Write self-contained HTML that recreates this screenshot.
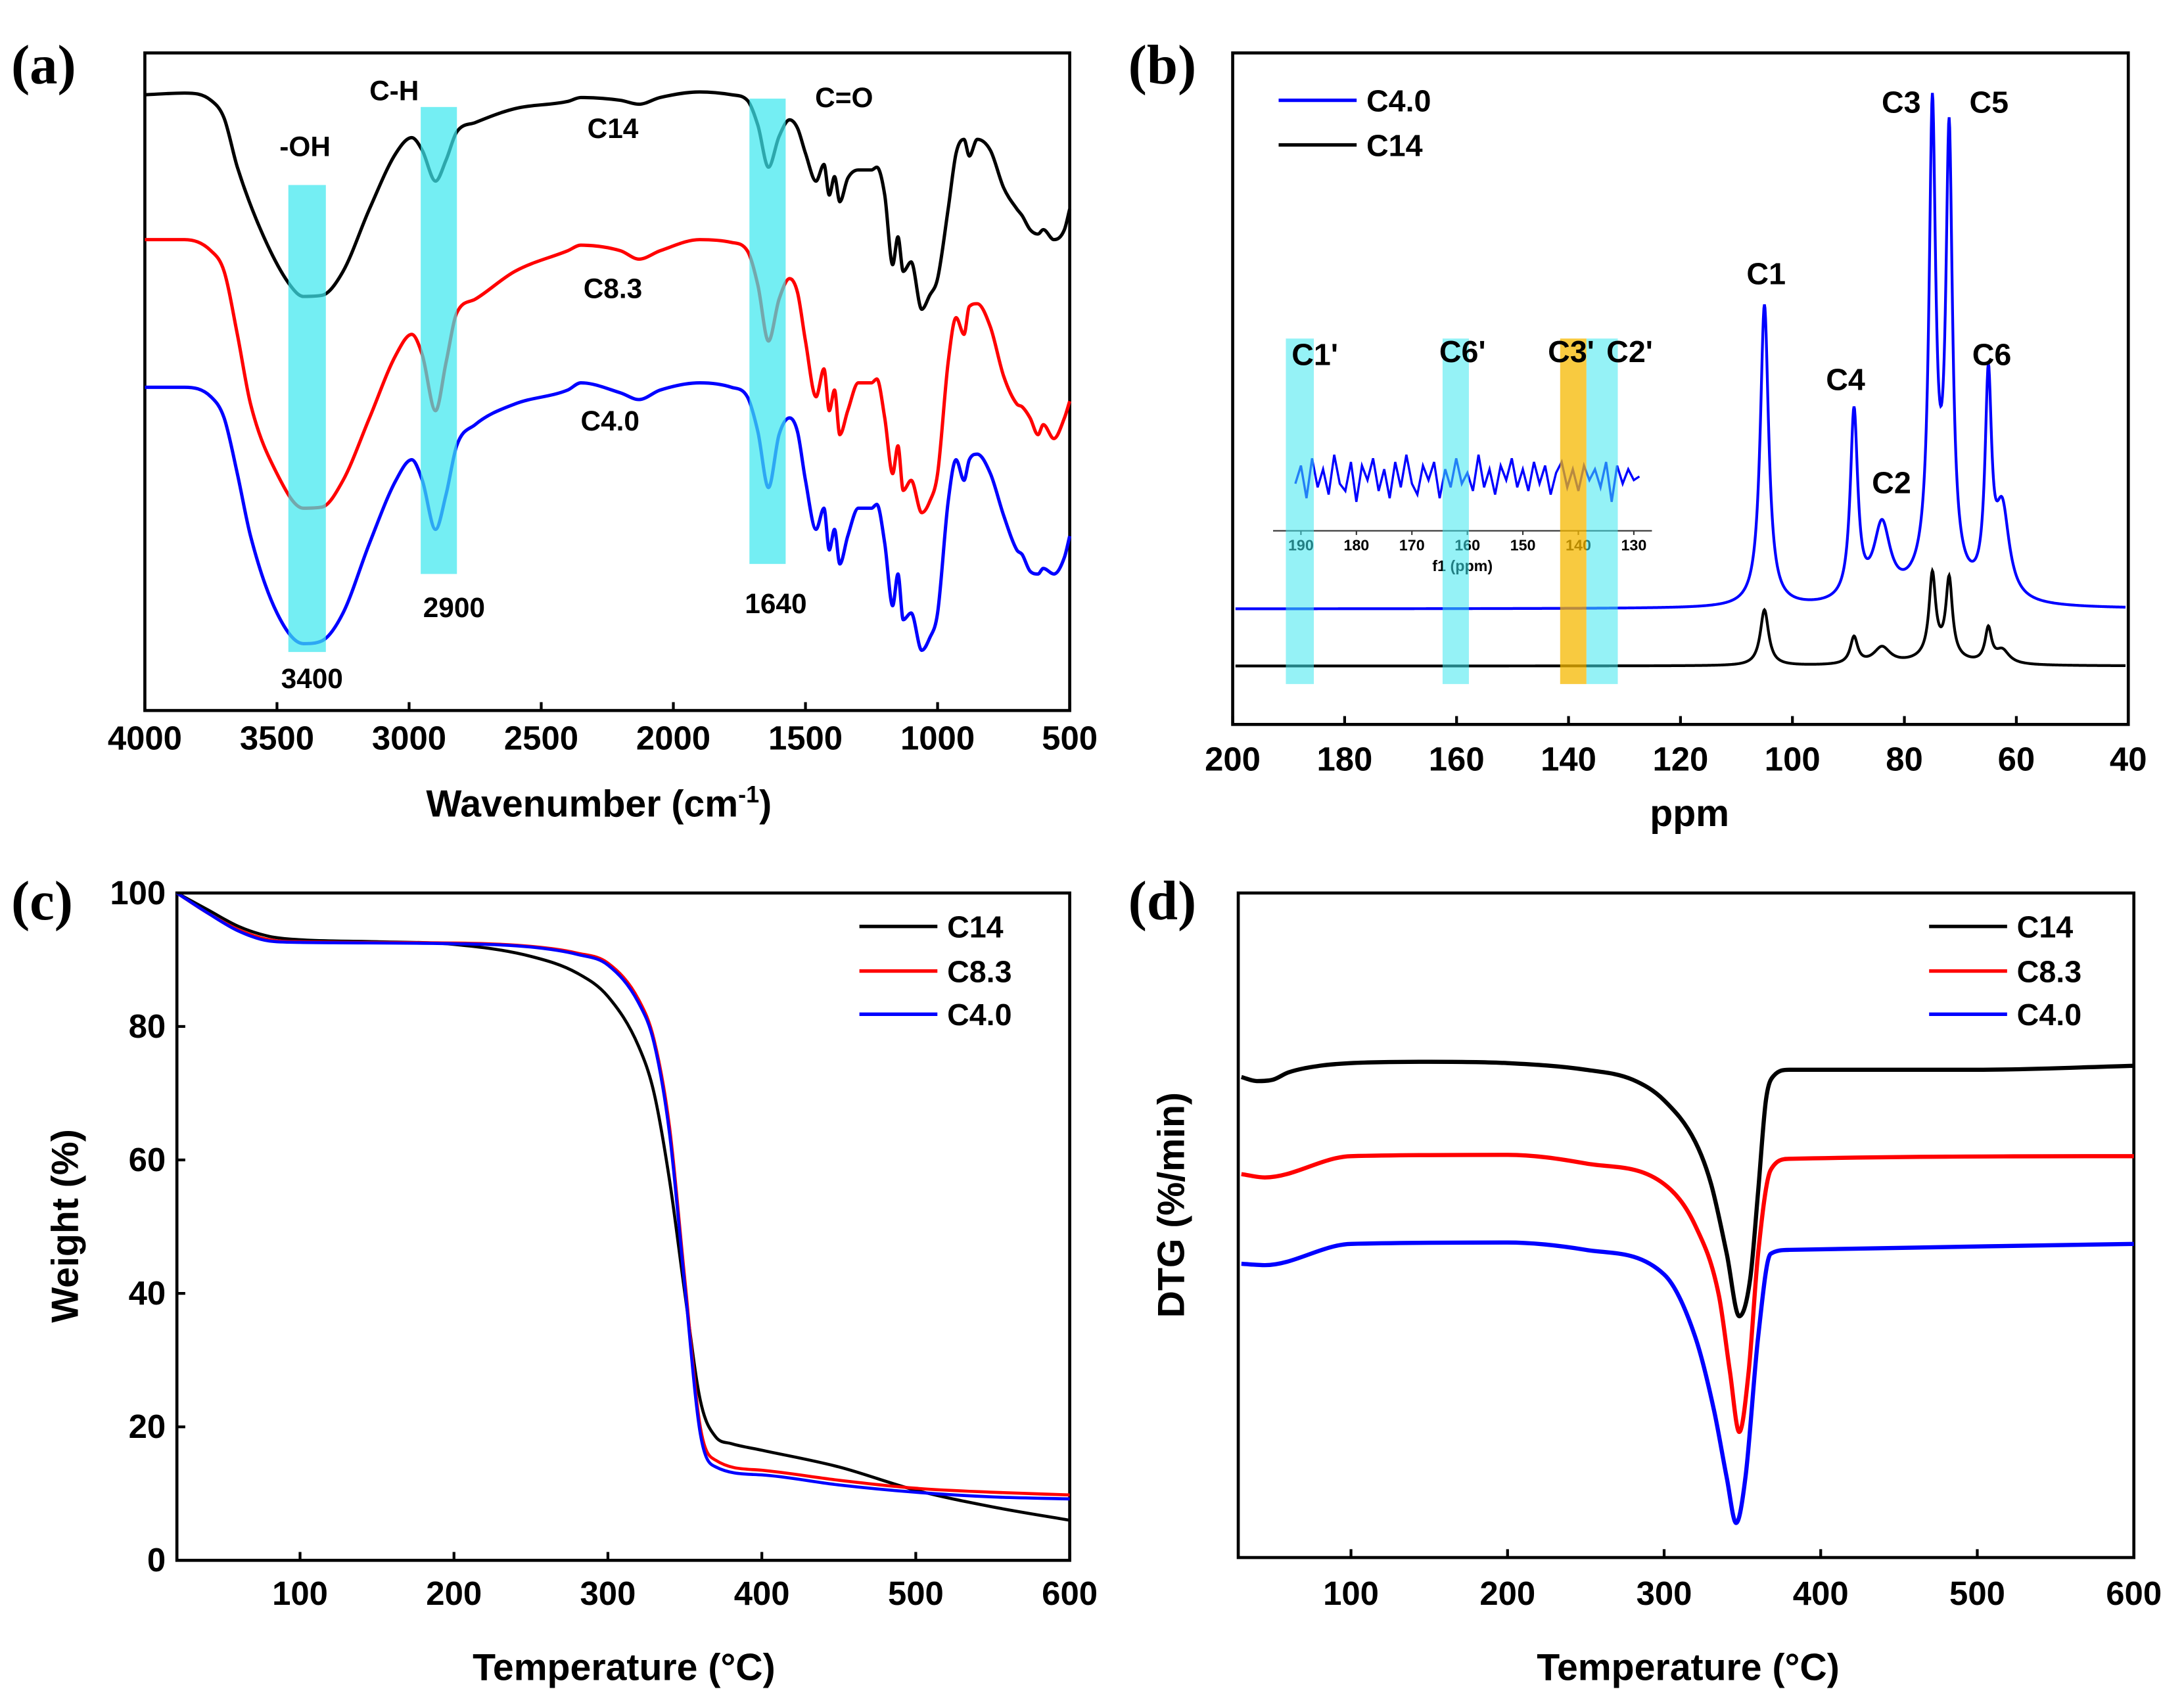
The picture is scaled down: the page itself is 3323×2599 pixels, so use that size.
<!DOCTYPE html>
<html><head><meta charset="utf-8"><style>
html,body{margin:0;padding:0;background:#fff}
svg{display:block}
text{font-family:"Liberation Sans",Arial,sans-serif;font-weight:bold;fill:#000}
.pl{font-family:"Liberation Serif",serif;font-size:40px}
</style></head><body>
<svg id="fig" xmlns="http://www.w3.org/2000/svg" width="3323" height="2599" viewBox="0 0 1568 1226" preserveAspectRatio="none">
<text class="pl" x="8" y="60">(a)</text>
<text class="pl" x="810" y="60">(b)</text>
<text class="pl" x="8" y="660">(c)</text>
<text class="pl" x="810" y="660">(d)</text>
</svg>
<script>
// ---------- Panel (a) FTIR data ----------
const irWn=[4000,3850,3750,3700,3650,3550,3450,3400,3330,3250,3150,3050,2990,2950,2900,2860,2820,2750,2600,2400,2350,2200,2130,2050,1900,1780,1720,1680,1640,1600,1560,1530,1500,1460,1430,1410,1390,1370,1340,1300,1250,1230,1200,1170,1150,1130,1100,1060,1030,1000,960,930,900,880,850,800,750,700,680,650,620,600,560,520,500];
const irC14=[110.5,110.8,109.5,106.3,97.5,85,76.3,74.3,74.5,78.8,90,100,102.8,100.5,95,98.8,103.8,105.5,108,109.3,110,109.5,108.8,110,111,110.5,109.5,105,97.5,103,106,104.5,100,95,98,92.5,95.8,91.3,95.5,97,97,97.5,92.5,80,85,78.8,80.5,72,74.5,77.5,90,100,102.5,99.5,102.5,100.5,93.8,90,88.8,86.3,85.5,86.3,84.5,86.3,90];
const irWnB=[4000,3850,3750,3700,3650,3600,3500,3400,3330,3250,3150,3050,2990,2950,2900,2860,2820,2750,2600,2400,2350,2200,2130,2050,1900,1780,1720,1680,1640,1600,1560,1530,1500,1460,1430,1410,1390,1370,1340,1300,1250,1230,1200,1170,1150,1130,1100,1060,1030,1000,960,930,900,880,850,800,750,700,680,650,620,600,560,520,500];
const irC83=[84.5,84.5,82.5,78.8,67.5,55,42.5,36.3,36.5,41.3,52.5,63.8,67.5,63.8,53.8,62.5,71.3,73.8,78.8,82.5,83.5,82.5,81,82.5,84.5,84,82.5,76.3,66.3,73.8,77.5,75,66.3,56.3,61.3,53.8,57.5,49.5,53.8,58.8,58.8,59.5,52.5,42.5,47.5,39.5,41.3,35.5,37.5,42.5,62.5,70.5,67.5,72.5,73,68.8,60,55,54.5,52.5,49.5,51.3,48.8,52.5,55.5];
const irC40=[58,58,56.3,52.5,42.5,31.3,17.5,12,12.5,17.5,30,41.3,45,41.3,32.5,38.8,47.5,51.3,55,57.5,58.8,57,55.8,57.5,58.8,58,56.3,50,40,49.5,52.5,50,41.3,32.5,36.3,28.8,32.5,26.3,31.3,36.3,36.3,37,30,18.8,24.5,16.3,17.5,10.8,13,17.5,37.5,45,41.3,45,46,42.5,35,28.8,28,25,24.5,25.5,24.5,27.5,31.3];
const irBandFrom=[3457,2956,1712];
const irBandTo=[3315,2819,1575];
const irBandTop=[94.3,108.3,109.8];
const irBandBot=[10.5,24.5,26.3];
const irXTicks=[4000,3500,3000,2500,2000,1500,1000,500];
// ---------- Panel (b) NMR data ----------
const nmrPeakPos=[105,89,84,75,72,65,62.5,74];
const nmrPeakWidth=[0.9,0.8,1.8,0.7,0.7,0.7,1.5,4];
const nmrBlueHeight=[45,28,11,67,64,31,13,6];
const nmrBlackHeight=[8.3,4,2.5,12,11.5,5,2,1.5];
const nmrBlueBase=17.2;
const nmrBlackBase=8.7;
const nmrXTicks=[200,180,160,140,120,100,80,60,40];
const nmrBandFrom=[190.5,162.5,141.5,136.8];
const nmrBandTo=[185.5,157.8,136.8,131.2];
const insetPpm=[191,190,189,188,187,186,185,184,183,182,181,180,179,178,177,176,175,174,173,172,171,170,169,168,167,166,165,164,163,162,161,160,159,158,157,156,155,154,153,152,151,150,149,148,147,146,145,144,143,142,141,140,139,138,137,136,135,134,133,132,131,130,129];
const insetVal=[2,-3,6,-5,3,-2,5,-6,2,4,-4,7,-3,1,-5,4,-2,6,-4,3,-6,2,5,-3,1,-4,6,-2,3,-5,2,-1,4,-6,3,-2,5,-3,1,-5,3,-2,4,-4,2,-3,5,-1,-4,3,-2,4,-3,1,-2,3,-4,7,-3,2,-2,1,0];
const insetTicks=[190,180,170,160,150,140,130];
// ---------- Panel (c) TGA data ----------
const tgaT14=[20,40,60,80,100,150,200,250,280,300,320,330,340,350,360,370,380,400,450,500,550,600];
const tgaC14=[100,97.5,95,93.5,93,92.7,92.3,90.5,88,84.5,77,70,57,40,24,18.5,17.5,16.5,14,10.5,8,6];
const tgaT=[20,40,60,80,100,200,250,280,300,320,330,340,350,360,370,400,450,500,550,600];
const tgaC83=[100,97,94.5,93,92.7,92.5,92,91,89.5,84,78,65,42,20,15,13.5,12,10.8,10.2,9.8];
const tgaC40=[100,97,94.3,92.8,92.6,92.4,91.9,90.8,89.2,83.5,77.5,64,41,19,14,12.8,11.3,10.2,9.5,9.2];
const tgaXTicks=[100,200,300,400,500,600];
const tgaYTicks=[0,20,40,60,80,100];
// ---------- Panel (d) DTG data ----------
const dtgT14=[30,40,50,60,80,100,150,200,250,280,300,320,330,340,348,355,360,365,370,380,450,500,600];
const dtgC14=[72.3,71.7,71.9,73,74,74.4,74.6,74.4,73.4,71.9,68.8,62.5,56.2,45.7,36.3,42,55,68.8,72.5,73.4,73.4,73.4,74];
const dtgT83=[30,45,100,200,250,300,320,335,342,348,354,360,368,380,600];
const dtgC83=[57.7,57.2,60.4,60.6,59.3,56.2,49.9,39.4,28,18.9,28,45.7,58.3,60,60.4];
const dtgT40=[30,45,100,200,250,300,320,332,340,346,352,360,368,380,600];
const dtgC40=[44.2,44,47.2,47.4,46.3,42.6,33.1,22,12,5.2,12.2,33.1,45.7,46.3,47.2];
const dtgXTicks=[100,200,300,400,500,600];

const NS="http://www.w3.org/2000/svg";
const svg=document.getElementById('fig');
function mk(tag,attrs,parent){const e=document.createElementNS(NS,tag);for(const k in attrs)e.setAttribute(k,attrs[k]);(parent||svg).appendChild(e);return e;}
function lin(d0,d1,r0,r1){return v=>r0+(v-d0)/(d1-d0)*(r1-r0);}
function mono(pts){const n=pts.length;const x=pts.map(p=>p[0]),y=pts.map(p=>p[1]);const d=[],m=[];for(let i=0;i<n-1;i++)d.push((y[i+1]-y[i])/(x[i+1]-x[i]));m[0]=d[0];m[n-1]=d[n-2];for(let i=1;i<n-1;i++){m[i]=(d[i-1]*d[i]<=0)?0:(d[i-1]+d[i])/2;}
for(let i=0;i<n-1;i++){if(d[i]===0){m[i]=0;m[i+1]=0;continue;}const a=m[i]/d[i],b=m[i+1]/d[i],s=a*a+b*b;if(s>9){const t=3/Math.sqrt(s);m[i]=t*a*d[i];m[i+1]=t*b*d[i];}}
let s='M'+x[0].toFixed(2)+','+y[0].toFixed(2);for(let i=0;i<n-1;i++){const h=(x[i+1]-x[i])/3;s+='C'+(x[i]+h).toFixed(2)+','+(y[i]+m[i]*h).toFixed(2)+' '+(x[i+1]-h).toFixed(2)+','+(y[i+1]-m[i+1]*h).toFixed(2)+' '+x[i+1].toFixed(2)+','+y[i+1].toFixed(2);}return s;}
function txt(s,x,y,size,name,anchor){const t=mk('text',{x:x,y:y,'font-size':size,'text-anchor':anchor||'middle'});t.textContent=s;return t;}
function frame(x0,y0,x1,y1,name){const r=mk('rect',{x:x0,y:y0,width:x1-x0,height:y1-y0,fill:'none',stroke:'#000','stroke-width':2.2});}
function xticks(ticks,sx,yb,labY,name){ticks.forEach(t=>{const l=mk('line',{x1:sx(t),x2:sx(t),y1:yb,y2:yb-6,stroke:'#000','stroke-width':2});txt(String(t),sx(t),labY,24,name+'-tick-label');});}
function curve(xs,ys,sx,sy,color,name,w){let pts=xs.map((x,i)=>[sx(x),sy(ys[i])]);if(pts[0][0]>pts[pts.length-1][0])pts=pts.reverse();const p=mk('path',{d:mono(pts),fill:'none',stroke:color,'stroke-width':w||2.4,'stroke-linejoin':'round'});return p;}
function legend(x,y,color,label,name){const l=mk('line',{x1:x,x2:x+56,y1:y,y2:y,stroke:color,'stroke-width':2.5});txt(label,x+63,y+8,22,name+'-label','start');}

// ===== Panel (a) =====
{const X0=104,X1=768,Y0=38,Y1=510;const sx=lin(4000,500,X0,X1),sy=lin(0,118,Y1,Y0);
frame(X0,Y0,X1,Y1,'ftir-plot-frame');
curve(irWn,irC14,sx,sy,'#000','ftir-c14-line');
curve(irWnB,irC83,sx,sy,'#f00','ftir-c83-line');
curve(irWnB,irC40,sx,sy,'#00f','ftir-c40-line');
irBandFrom.forEach((f,i)=>{const r=mk('rect',{x:sx(f),y:sy(irBandTop[i]),width:sx(irBandTo[i])-sx(f),height:sy(irBandBot[i])-sy(irBandTop[i]),fill:'#3ee8ee','fill-opacity':0.72});});
xticks(irXTicks,sx,Y1,538,'ftir-x');
const t=txt('Wavenumber (cm',430,586,27,'ftir-x-axis-title');const ts=mk('tspan',{dy:-10,'font-size':17},t);ts.textContent='-1';const ts2=mk('tspan',{dy:10},t);ts2.textContent=')';
[['-OH',219,112],['C-H',283,72],['C14',440,99],['C8.3',440,214],['C4.0',438,309],['C=O',606,77],['2900',326,443],['1640',557,440],['3400',224,494]].forEach(a=>txt(a[0],a[1],a[2],20,'ftir-annotation'));}

// ===== Panel (b) =====
{const X0=885,X1=1528,Y0=38,Y1=520;const sx=lin(200,40,X0,X1),sy=lin(0,100,Y1,Y0);
frame(X0,Y0,X1,Y1,'nmr-plot-frame');
function spec(h,base){const xs=[],ys=[];for(let p=199.5;p>=40.5;p-=0.1){let v=base;nmrPeakPos.forEach((c,i)=>{const g=nmrPeakWidth[i];v+=h[i]*g*g/((p-c)*(p-c)+g*g);});xs.push(p);ys.push(v);}return [xs,ys];}
const b=spec(nmrBlueHeight,nmrBlueBase),k=spec(nmrBlackHeight,nmrBlackBase);
const lp=d=>'M'+d[0].map((x,i)=>sx(x).toFixed(2)+','+sy(d[1][i]).toFixed(2)).join('L');
const pb=mk('path',{d:lp(b),fill:'none',stroke:'#00f','stroke-width':2});
const pk=mk('path',{d:lp(k),fill:'none',stroke:'#000','stroke-width':2});
const ix=lin(190,130,934,1173);const iy=v=>342+v*2.6;
const ip=mk('path',{d:'M'+insetPpm.map((p,i)=>ix(p).toFixed(1)+','+iy(insetVal[i]).toFixed(1)).join('L'),fill:'none',stroke:'#00f','stroke-width':1.6});
const ia=mk('line',{x1:914,x2:1186,y1:381,y2:381,stroke:'#333','stroke-width':1});
insetTicks.forEach(t=>{const l=mk('line',{x1:ix(t),x2:ix(t),y1:381,y2:384,stroke:'#333','stroke-width':1});txt(String(t),ix(t),395,11,'inset-tick-label');});
txt('f1 (ppm)',1050,410,11,'inset-axis-title');
const bc=['#3ee8ee','#3ee8ee','#f5b800','#3ee8ee'];
nmrBandFrom.forEach((f,i)=>{const r=mk('rect',{x:sx(f),y:243,width:sx(nmrBandTo[i])-sx(f),height:248,fill:bc[i],'fill-opacity':i==2?0.75:0.55});});
xticks(nmrXTicks,sx,Y1,553,'nmr-x');
txt('ppm',1213,593,27,'nmr-x-axis-title');
[["C1'",944,262],["C6'",1050,260],["C3'",1128,260],["C2'",1170,260],['C1',1268,204],['C4',1325,280],['C2',1358,354],['C3',1365,81],['C5',1428,81],['C6',1430,262]].forEach(a=>txt(a[0],a[1],a[2],22,'nmr-peak-label'));
legend(918,72,'#00f','C4.0','nmr-legend-c40');legend(918,104,'#000','C14','nmr-legend-c14');}

// ===== Panel (c) =====
{const X0=127,X1=768,Y0=641,Y1=1120;const sx=lin(20,600,X0,X1),sy=lin(0,100,Y1,Y0);
frame(X0,Y0,X1,Y1,'tga-plot-frame');
curve(tgaT14,tgaC14,sx,sy,'#000','tga-c14-line',2.2);
curve(tgaT,tgaC83,sx,sy,'#f00','tga-c83-line',2.2);
curve(tgaT,tgaC40,sx,sy,'#00f','tga-c40-line',2.2);
xticks(tgaXTicks,sx,Y1,1152,'tga-x');
tgaYTicks.forEach(t=>{const l=mk('line',{x1:X0,x2:X0+6,y1:sy(t),y2:sy(t),stroke:'#000','stroke-width':2});txt(String(t),X0-8,sy(t)+8,24,'tga-y-tick-label','end');});
txt('Temperature (°C)',448,1206,27,'tga-x-axis-title');
const yt=txt('Weight (%)',0,0,27,'tga-y-axis-title');yt.setAttribute('transform','translate(56,880) rotate(-90)');
legend(617,665,'#000','C14','tga-legend-c14');legend(617,697,'#f00','C8.3','tga-legend-c83');legend(617,728,'#00f','C4.0','tga-legend-c40');}

// ===== Panel (d) =====
{const X0=889,X1=1532,Y0=641,Y1=1118;const sx=lin(28,600,X0,X1),sy=lin(0,100,Y1,Y0);
frame(X0,Y0,X1,Y1,'dtg-plot-frame');
curve(dtgT14,dtgC14,sx,sy,'#000','dtg-c14-line',3);
curve(dtgT83,dtgC83,sx,sy,'#f00','dtg-c83-line',3);
curve(dtgT40,dtgC40,sx,sy,'#00f','dtg-c40-line',3);
xticks(dtgXTicks,sx,Y1,1152,'dtg-x');
txt('Temperature (°C)',1212,1206,27,'dtg-x-axis-title');
const yt=txt('DTG (%/min)',0,0,27,'dtg-y-axis-title');yt.setAttribute('transform','translate(850,865) rotate(-90)');
legend(1385,665,'#000','C14','dtg-legend-c14');legend(1385,697,'#f00','C8.3','dtg-legend-c83');legend(1385,728,'#00f','C4.0','dtg-legend-c40');}
</script>
</body></html>
